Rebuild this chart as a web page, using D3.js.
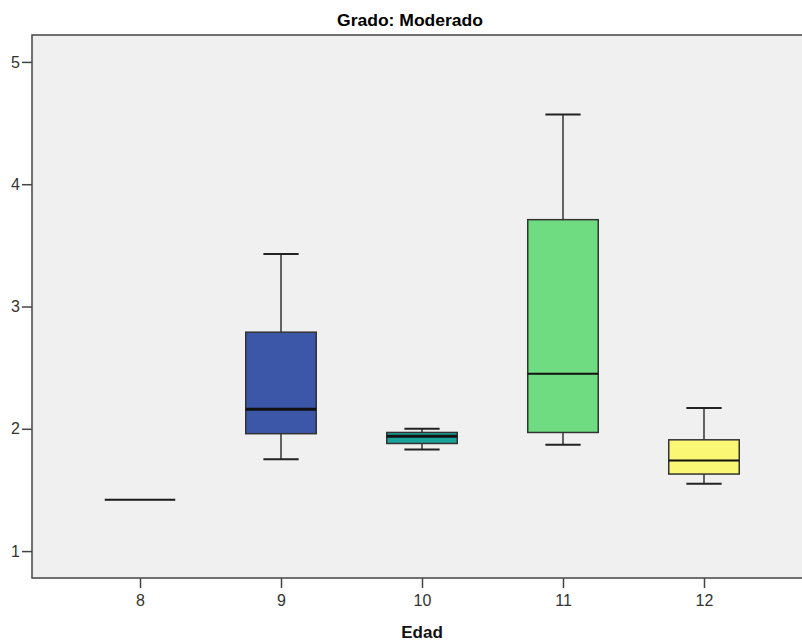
<!DOCTYPE html>
<html>
<head>
<meta charset="utf-8">
<script src="https://cdn.jsdelivr.net/npm/d3@7"></script>
<style>
  html, body { margin: 0; padding: 0; background: #fff; }
  svg { display: block; }
</style>
</head>
<body>
<svg id="chart" width="802" height="642"></svg>
<script>
// Edad groups and box-plot summaries (whisker low, Q1, median, Q3, whisker high)
const ages      = ["8", "9", "10", "11", "12"];
const whiskLow  = [1.42, 1.75, 1.83, 1.87, 1.55];
const q1        = [1.42, 1.96, 1.88, 1.97, 1.63];
const medians   = [1.42, 2.16, 1.94, 2.45, 1.74];
const q3        = [1.42, 2.79, 1.97, 3.71, 1.91];
const whiskHigh = [1.42, 3.43, 2.00, 4.57, 2.17];
const fills     = ["#3c56a8", "#3c56a8", "#19a39a", "#70dc82", "#faf774"];
const yTicks    = [1, 2, 3, 4, 5];

const title = "Grado: Moderado";
const xTitle = "Edad";

const svg = d3.select("#chart");
const plot = { left: 32, right: 812, top: 35, bottom: 578 };

const x = d3.scalePoint()
  .domain(ages)
  .range([plot.left, plot.right])
  .padding(0.766);
const step = x.step();
const boxW = step * 0.5;
const capW = step * 0.25;

const y = d3.scaleLinear()
  .domain([0.78, 5.22])
  .range([plot.bottom, plot.top]);

// plot background
svg.append("rect")
  .attr("x", plot.left).attr("y", plot.top)
  .attr("width", plot.right - plot.left)
  .attr("height", plot.bottom - plot.top)
  .attr("fill", "#f0f0f0")
  .attr("stroke", "#444")
  .attr("stroke-width", 1.5);

// title
svg.append("text")
  .attr("x", 410).attr("y", 26)
  .attr("text-anchor", "middle")
  .attr("font-family", "'Liberation Sans', Arial, sans-serif")
  .attr("font-weight", "bold")
  .attr("font-size", 16)
  .attr("textLength", 146)
  .attr("lengthAdjust", "spacingAndGlyphs")
  .attr("fill", "#000")
  .text(title);

// axes
const yAxis = svg.append("g")
  .attr("transform", `translate(${plot.left},0)`)
  .call(d3.axisLeft(y).tickValues(yTicks).tickSize(10).tickPadding(2).tickFormat(d3.format("d")));
yAxis.select(".domain").remove();

const xAxis = svg.append("g")
  .attr("transform", `translate(0,${plot.bottom})`)
  .call(d3.axisBottom(x).tickSize(10).tickPadding(7));
xAxis.select(".domain").remove();

svg.selectAll(".tick line").attr("stroke", "#444").attr("stroke-width", 1.5);
svg.selectAll(".tick text")
  .attr("font-family", "'Liberation Sans', Arial, sans-serif")
  .attr("font-size", 16)
  .attr("fill", "#333");

svg.append("text")
  .attr("x", x("10")).attr("y", 638)
  .attr("text-anchor", "middle")
  .attr("font-family", "'Liberation Sans', Arial, sans-serif")
  .attr("font-weight", "bold")
  .attr("font-size", 17)
  .attr("fill", "#111")
  .text(xTitle);

// boxes
const data = ages.map((a, i) => ({
  age: a, lo: whiskLow[i], q1: q1[i], med: medians[i], q3: q3[i], hi: whiskHigh[i], fill: fills[i]
}));

const g = svg.append("g");
data.forEach(d => {
  const cx = x(d.age);
  const flat = d.q1 === d.q3;
  if (flat) {
    g.append("line")
      .attr("x1", cx - boxW / 2).attr("x2", cx + boxW / 2)
      .attr("y1", y(d.med)).attr("y2", y(d.med))
      .attr("stroke", "#1a1a1a").attr("stroke-width", 2);
    return;
  }
  // whiskers
  [[d.q3, d.hi], [d.q1, d.lo]].forEach(([a, b]) => {
    g.append("line")
      .attr("x1", cx).attr("x2", cx)
      .attr("y1", y(a)).attr("y2", y(b))
      .attr("stroke", "#333").attr("stroke-width", 1.5);
    g.append("line")
      .attr("x1", cx - capW / 2).attr("x2", cx + capW / 2)
      .attr("y1", y(b)).attr("y2", y(b))
      .attr("stroke", "#222").attr("stroke-width", 2);
  });
  g.append("rect")
    .attr("x", cx - boxW / 2)
    .attr("y", y(d.q3))
    .attr("width", boxW)
    .attr("height", y(d.q1) - y(d.q3))
    .attr("fill", d.fill)
    .attr("stroke", "#333")
    .attr("stroke-width", 1.5);
  g.append("line")
    .attr("x1", cx - boxW / 2).attr("x2", cx + boxW / 2)
    .attr("y1", y(d.med)).attr("y2", y(d.med))
    .attr("stroke", "#111")
    .attr("stroke-width", (d.age === "9" || d.age === "10") ? 3 : 2);
});
</script>
</body>
</html>
